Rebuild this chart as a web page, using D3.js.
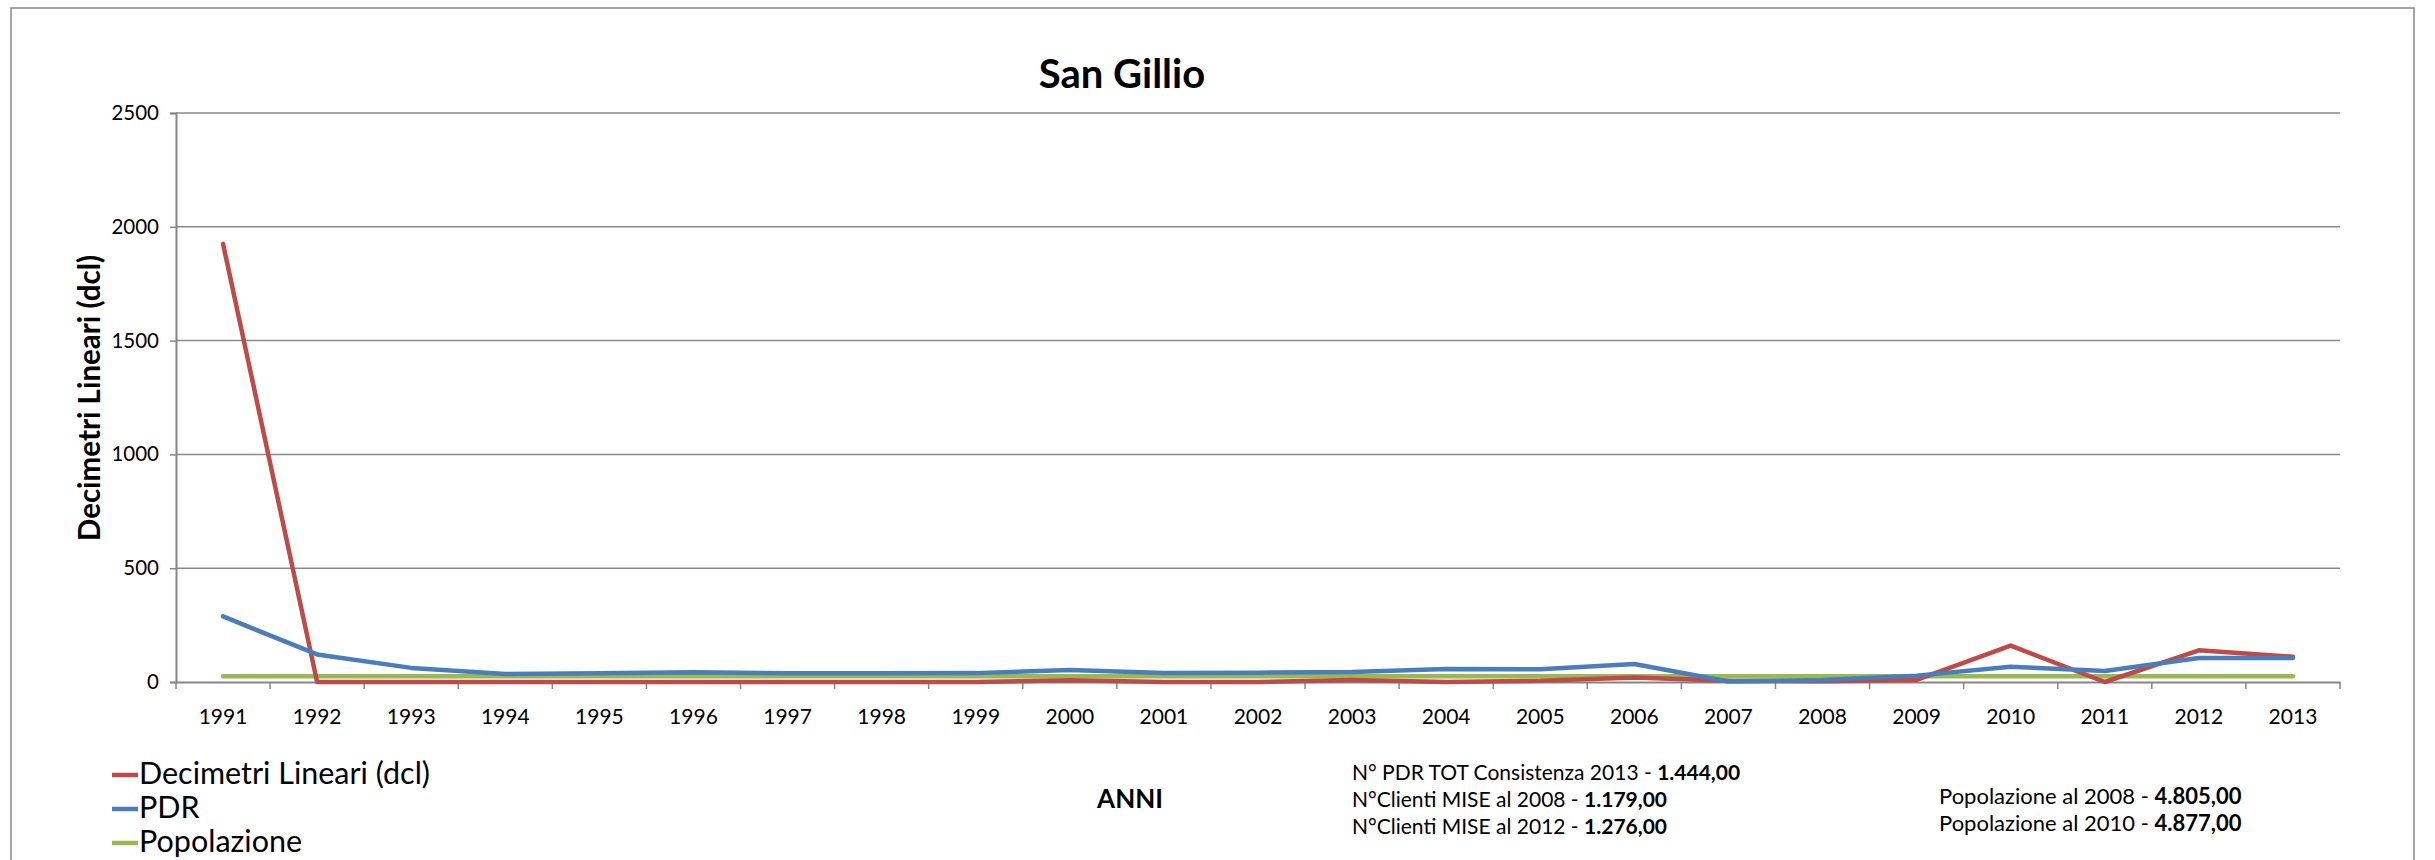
<!DOCTYPE html>
<html>
<head>
<meta charset="utf-8">
<script src="https://cdn.jsdelivr.net/npm/d3@7"></script>
<style>
  body { margin: 0; background: #fff; }
  svg text { font-family: Lato, "Open Sans", sans-serif; fill: #000; }
</style>
</head>
<body>
<div id="chart"></div>
<script>
// data
var years = ["1991","1992","1993","1994","1995","1996","1997","1998","1999","2000","2001","2002",
             "2003","2004","2005","2006","2007","2008","2009","2010","2011","2012","2013"];
var decimetri = [1925, 0, 0, 0, 0, 0, 0, 0, 0, 8, 0, 0, 9, 0, 5, 20, 6, 3, 9, 160, 0, 139, 111];
var pdr = [288, 121, 62, 35, 38, 43, 38, 38, 39, 53, 40, 41, 44, 57, 56, 79, 2, 9, 28, 67, 48, 105, 105];
var popolazione = [25, 25, 25, 25, 25, 25, 25, 25, 25, 25, 25, 25, 25, 25, 25, 25, 25, 25, 25, 25, 25, 25, 25];
var yTicks = [0, 500, 1000, 1500, 2000, 2500];

var seriesNames = ["Decimetri Lineari (dcl)", "PDR", "Popolazione"];
var seriesColors = ["#BE4B48", "#4A7EBB", "#98B954"];

var width = 2435, height = 860;
var plotLeft = 176, plotRight = 2340, plotTop = 113, plotBottom = 682;

var svg = d3.select("#chart").append("svg")
    .attr("width", width)
    .attr("height", height);

// outer frame
svg.append("rect")
    .attr("x", 11).attr("y", 8)
    .attr("width", 2403).attr("height", 870)
    .attr("fill", "none")
    .attr("stroke", "#888")
    .attr("stroke-width", 1.5);

var x = d3.scaleBand().domain(years).range([plotLeft, plotRight]);
var y = d3.scaleLinear().domain([0, 2500]).range([plotBottom, plotTop]);

// gridlines
svg.append("g").selectAll("line")
    .data(yTicks.filter(function(d){ return d > 0; }))
    .enter().append("line")
    .attr("x1", plotLeft).attr("x2", plotRight)
    .attr("y1", function(d){ return y(d); })
    .attr("y2", function(d){ return y(d); })
    .attr("stroke", "#8a8a8a")
    .attr("stroke-width", 1.5);

// y axis
var yAxis = svg.append("g")
    .attr("transform", "translate(" + plotLeft + ",0)")
    .call(d3.axisLeft(y).tickValues(yTicks).tickSize(6).tickPadding(11).tickFormat(d3.format("d")));
yAxis.select(".domain").attr("stroke", "#868686").attr("stroke-width", 2);
yAxis.selectAll(".tick line").attr("stroke", "#868686").attr("stroke-width", 1.5);
yAxis.selectAll(".tick text").attr("font-size", 20.5).attr("font-family", "Lato");

// x axis
var xAxis = svg.append("g")
    .attr("transform", "translate(0," + plotBottom + ")")
    .call(d3.axisBottom(x).tickSize(0).tickPadding(27));
xAxis.select(".domain").attr("stroke", "#868686").attr("stroke-width", 2);
xAxis.selectAll(".tick text").attr("font-size", 21).attr("font-family", "Lato");

// tick marks at band boundaries
var bounds = years.map(function(d){ return x(d); }).concat([x.range()[1]]);
svg.append("g").selectAll("line")
    .data(bounds)
    .enter().append("line")
    .attr("x1", function(d){ return d; })
    .attr("x2", function(d){ return d; })
    .attr("y1", plotBottom).attr("y2", plotBottom + 7)
    .attr("stroke", "#868686")
    .attr("stroke-width", 1.5);

// lines
var line = d3.line()
    .x(function(d, i){ return x(years[i]) + x.bandwidth() / 2; })
    .y(function(d){ return y(d); });

[popolazione, decimetri, pdr].forEach(function(values) {
    var idx = values === decimetri ? 0 : (values === pdr ? 1 : 2);
    svg.append("path")
        .datum(values)
        .attr("d", line)
        .attr("fill", "none")
        .attr("stroke", seriesColors[idx])
        .attr("stroke-width", 4.5)
        .attr("stroke-linejoin", "round")
        .attr("stroke-linecap", "round");
});

// title
svg.append("text")
    .attr("x", 1122).attr("y", 88)
    .attr("text-anchor", "middle")
    .attr("font-size", 40)
    .attr("font-weight", "bold")
    .text("San Gillio");

// y axis title
svg.append("text")
    .attr("transform", "translate(100,398) rotate(-90)")
    .attr("text-anchor", "middle")
    .attr("font-size", 29.5)
    .attr("font-weight", "bold")
    .text("Decimetri Lineari (dcl)");

// x axis title
svg.append("text")
    .attr("x", 1130).attr("y", 808)
    .attr("text-anchor", "middle")
    .attr("font-size", 26)
    .attr("font-weight", "bold")
    .text("ANNI");

// legend
var legend = svg.append("g");
seriesNames.forEach(function(name, i) {
    var ly = 775 + i * 34;
    legend.append("line")
        .attr("x1", 112).attr("x2", 138)
        .attr("y1", ly).attr("y2", ly)
        .attr("stroke", seriesColors[i])
        .attr("stroke-width", 4.5);
    legend.append("text")
        .attr("x", 139).attr("y", ly + 9)
        .attr("font-size", 30.5)
        .text(name);
});

// notes
var notesLeft = [["N° PDR TOT Consistenza 2013 - ", "1.444,00"],
                 ["N°Clienti MISE al 2008 - ", "1.179,00"],
                 ["N°Clienti MISE al 2012 - ", "1.276,00"]];
var notesRight = [["Popolazione al 2008 - ", "4.805,00"],
                  ["Popolazione al 2010 - ", "4.877,00"]];

function notes(list, nx, ny, size) {
    list.forEach(function(n, i) {
        var t = svg.append("text")
            .attr("x", nx).attr("y", ny + i * 27)
            .attr("font-size", size);
        t.append("tspan").text(n[0]);
        t.append("tspan").attr("font-weight", "bold").text(n[1]);
    });
}
notes(notesLeft, 1352, 780, 21);
notes(notesRight, 1939, 804, 22);
</script>
</body>
</html>
